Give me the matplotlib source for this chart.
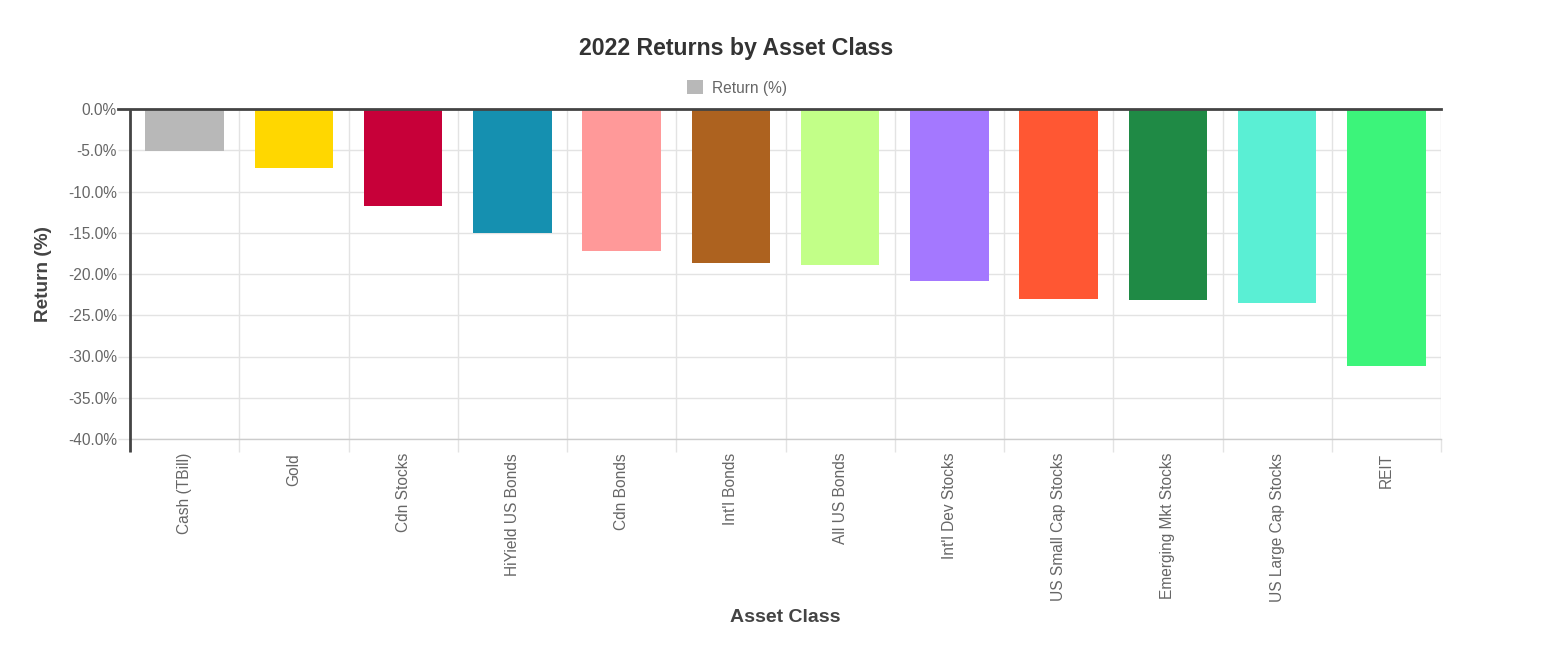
import matplotlib
matplotlib.use("Agg")
import matplotlib.pyplot as plt
import numpy as np

categories = ["Cash (TBill)", "Gold", "Cdn Stocks", "HiYield US Bonds", "Cdn Bonds",
              "Int'l Bonds", "All US Bonds", "Int'l Dev Stocks", "US Small Cap Stocks",
              "Emerging Mkt Stocks", "US Large Cap Stocks", "REIT"]
returns = [-5.1, -7.2, -11.8, -15.0, -17.2, -18.7, -18.9, -20.8, -23.0, -23.1, -23.5, -31.1]
colors = ["#b8b8b8", "#ffd700", "#c70039", "#1590b0", "#ff9999", "#ad621f",
          "#c2ff88", "#a478ff", "#ff5733", "#1f8a45", "#5aefd4", "#3cf47a"]
yticks = [0, -5, -10, -15, -20, -25, -30, -35, -40]

plt.rcParams['font.family'] = ['Liberation Sans', 'DejaVu Sans']

W, H = 1550, 666
fig = plt.figure(figsize=(W / 100, H / 100), dpi=100)
L, R, T, B = 130, 1441, 109, 439
ax = fig.add_axes([L / W, 1 - B / H, (R - L) / W, (B - T) / H])

x = np.arange(len(categories))
bars = ax.bar(x, returns, width=0.72, color=colors, label="Return (%)", zorder=3)

ax.set_xlim(-0.5, len(categories) - 0.5)
ax.set_ylim(-40, 0)

grid_c = "#e3e3e3"
# y axis
ax.set_yticks(yticks)
ax.set_yticklabels([f"{v:.1f}%" for v in yticks])
ax.tick_params(axis='y', length=8.6, color=grid_c, width=1, pad=0.8,
               labelsize=11.2, labelcolor="#666666")
ax.yaxis.grid(True, color=grid_c, lw=1, zorder=0)

# x axis
ax.set_xticks(x)
ax.set_xticklabels(categories, rotation=90)
ax.set_xticks(np.arange(-0.5, len(categories)), minor=True)
ax.tick_params(axis='x', which='major', length=0, pad=10, labelsize=11.2,
               labelcolor="#666666")
ax.tick_params(axis='x', which='minor', length=9.4, color=grid_c, width=1)
ax.xaxis.grid(True, which='minor', color=grid_c, lw=1, zorder=0)
ax.xaxis.grid(False, which='major')

for s in ['top', 'right', 'left']:
    ax.spines[s].set_visible(False)
ax.spines['bottom'].set_color("#cccccc")
ax.spines['bottom'].set_linewidth(1)

# dark zero line and y axis line
ax.axhline(0, xmin=-12 / (R - L), xmax=1, color="#444444", lw=2, clip_on=False, zorder=4)
ax.plot([-0.5, -0.5], [0, -40 - 13 * 40 / (B - T)], color="#444444", lw=2,
        clip_on=False, zorder=4, solid_capstyle='butt')

ax.set_ylabel("Return (%)", fontsize=13.7, fontweight='bold', color="#444444")
ax.yaxis.set_label_coords((43 - L) / (R - L), 0.5)
ax.yaxis.label.set_va('center')
ax.set_xlabel("Asset Class", fontsize=14, fontweight='bold', color="#444444")
ax.xaxis.set_label_coords(0.5, (B - 617) / (B - T))
ax.xaxis.label.set_va('center')

fig.text(736.5 / W, 1 - 49 / H, "2022 Returns by Asset Class", ha='center', va='center',
         fontsize=16.7, fontweight='bold', color="#333333")

h, l = ax.get_legend_handles_labels()
fig.legend(h, l, loc='center', bbox_to_anchor=(737 / W, 1 - 88 / H), frameon=False,
           fontsize=11.2, handlelength=1.03, handleheight=0.97, handletextpad=0.58,
           labelcolor="#666666", borderpad=0, borderaxespad=0)

fig.savefig("out.png", dpi=100)
